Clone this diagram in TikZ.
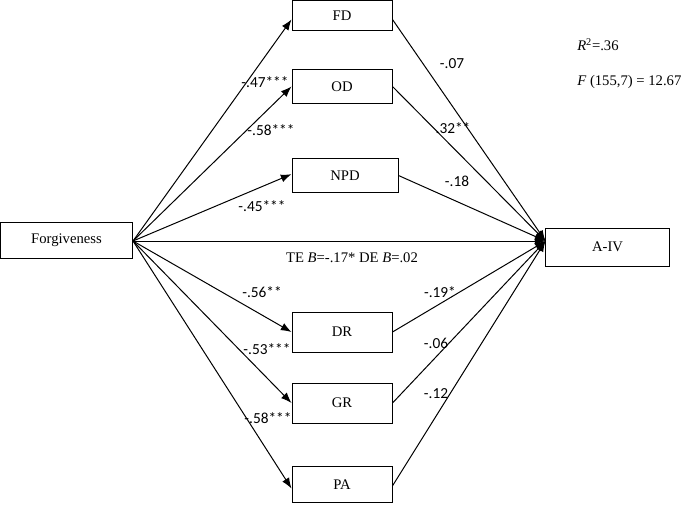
\documentclass[tikz,border=0pt]{standalone}
\usepackage{fontspec}
\setmainfont{Liberation Serif}
\newfontfamily\coeffont{Carlito}
\usetikzlibrary{arrows.meta}

\tikzset{
	varbox/.style={draw, line width=0.75pt, inner sep=0pt, font=\fontsize{11}{13}\selectfont},
	coef/.style={inner sep=0.75pt, font=\coeffont\fontsize{11.5}{13}\selectfont},
	path/.style={line width=0.75pt, -{Latex[length=8pt,width=6pt]}}
}

\begin{document}
\begin{tikzpicture}[x=0.75pt,y=0.75pt,yscale=-1,xscale=1]
		\useasboundingbox (0,0) rectangle (685,504);
		% boxes
		\node [varbox, minimum width=99pt, minimum height=27pt] (forg) at (66.5,240.5) {Forgiveness};
		\node [varbox, minimum width=75pt, minimum height=22.5pt] (fd) at (342,15.5) {FD};
		\node [varbox, minimum width=75pt, minimum height=26pt] (od) at (342,86.5) {OD};
		\node [varbox, minimum width=79.5pt, minimum height=26pt] (npd) at (345,175.5) {NPD};
		\node [varbox, minimum width=75pt, minimum height=30pt] (dr) at (342,332) {DR};
		\node [varbox, minimum width=75pt, minimum height=30pt] (gr) at (342,403) {GR};
		\node [varbox, minimum width=75pt, minimum height=27.5pt] (pa) at (342,484.5) {PA};
		\node [varbox, minimum width=93pt, minimum height=28.5pt] (aiv) at (607.5,247) {A-IV};
		\coordinate (src) at (133,241);
		\coordinate (hub) at (545.5,241);
		% forgiveness to mediators
		\draw [path] (src) -- ([yshift=3pt]fd.west);
		\draw [path] (src) -- (od.west);
		\draw [path] (src) -- ([yshift=-1pt]npd.west);
		\draw [path] (src) -- (dr.west);
		\draw [path] (src) -- (gr.west);
		\draw [path] (src) -- ([yshift=3pt]pa.west);
		% mediators to outcome
		\draw [path] ([yshift=3pt]fd.east) -- (hub);
		\draw [path] (od.east) -- (hub);
		\draw [path] (npd.east) -- (hub);
		\draw [path] (dr.east) -- (hub);
		\draw [path] (gr.east) -- (hub);
		\draw [path] ([yshift=1pt]pa.east) -- (hub);
		\draw [path] (src) -- (hub);
		% coefficients
		\node [coef] (c1) at (265,82) {-.47***};
		\node [coef] (c2) at (271,130) {-.58***};
		\node [coef] (c3) at (262,206) {-.45***};
		\node [coef] (c4) at (262,292) {-.56**};
		\node [coef] (c5) at (267,349) {-.53***};
		\node [coef] (c6) at (268,418) {-.58***};
		\node [coef] (c7) at (452,64) {-.07};
		\node [coef] (c8) at (453,128) {.32**};
		\node [coef] (c9) at (457,181) {-.18};
		\node [coef] (c10) at (440,292) {-.19*};
		\node [coef] (c11) at (436,343) {-.06};
		\node [coef] (c12) at (436,394) {-.12};
		\node [inner sep=0.75pt, font=\fontsize{11}{13}\selectfont] (te) at (352,258) {TE \textit{B}=-.17* DE \textit{B}=.02};
		\node [anchor=west, inner sep=0.75pt, font=\fontsize{11}{13}\selectfont] (rsq) at (576,45) {\textit{R}\textsuperscript{2}=.36};
		\node [anchor=west, inner sep=0.75pt, font=\fontsize{11}{13}\selectfont] (fstat) at (576,82) {\textit{F} (155,7) = 12.67};
\end{tikzpicture}
\end{document}
